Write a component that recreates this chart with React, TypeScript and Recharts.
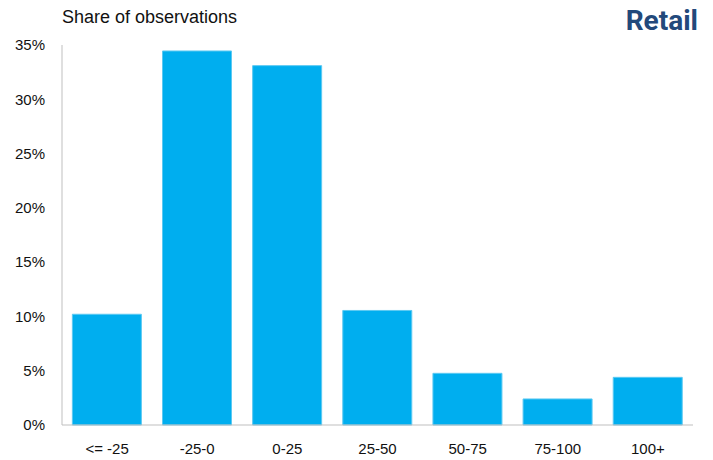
import { BarChart, Bar, XAxis, YAxis } from "recharts"

const buckets = ["<= -25", "-25-0", "0-25", "25-50", "50-75", "75-100", "100+"]
const shares = [0.102, 0.3445, 0.331, 0.1055, 0.0476, 0.024, 0.0439]
const yTicks = [0, 0.05, 0.1, 0.15, 0.2, 0.25, 0.3, 0.35]

const data = buckets.map((name, i) => ({ name, share: shares[i] }))

const font = "'Liberation Sans', Arial, sans-serif"

export default function App() {
  return (
    <div style={{ position: "fixed", left: 0, top: 0, width: 713, height: 460, background: "#fff", fontFamily: font }}>
      <div style={{ position: "absolute", left: 62, top: 7, fontSize: 18, color: "#111" }}>Share of observations</div>
      <div
        style={{
          position: "absolute",
          right: 15,
          top: 4,
          fontSize: 28,
          fontWeight: 700,
          fontFamily: "Roboto, sans-serif",
          color: "#22497b",
        }}
      >
        Retail
      </div>
      <BarChart width={713} height={460} data={data} margin={{ top: 45, right: 20, left: 0, bottom: 0 }} barCategoryGap="11.5%">
        <XAxis
          dataKey="name"
          height={35}
          tickLine={false}
          axisLine={{ stroke: "#bfbfbf" }}
          tickMargin={12}
          tick={{ fill: "#111", fontSize: 15, fontFamily: font }}
          interval={0}
        />
        <YAxis
          width={62}
          domain={[0, 0.35]}
          ticks={yTicks}
          tickLine={false}
          axisLine={{ stroke: "#bfbfbf" }}
          tickMargin={11}
          tick={{ fill: "#111", fontSize: 15, fontFamily: font }}
          tickFormatter={(v: number) => `${Math.round(v * 100)}%`}
        />
        <Bar dataKey="share" fill="#00aeef" stroke="#5cc9f2" strokeWidth={1} isAnimationActive={false} />
      </BarChart>
    </div>
  )
}
